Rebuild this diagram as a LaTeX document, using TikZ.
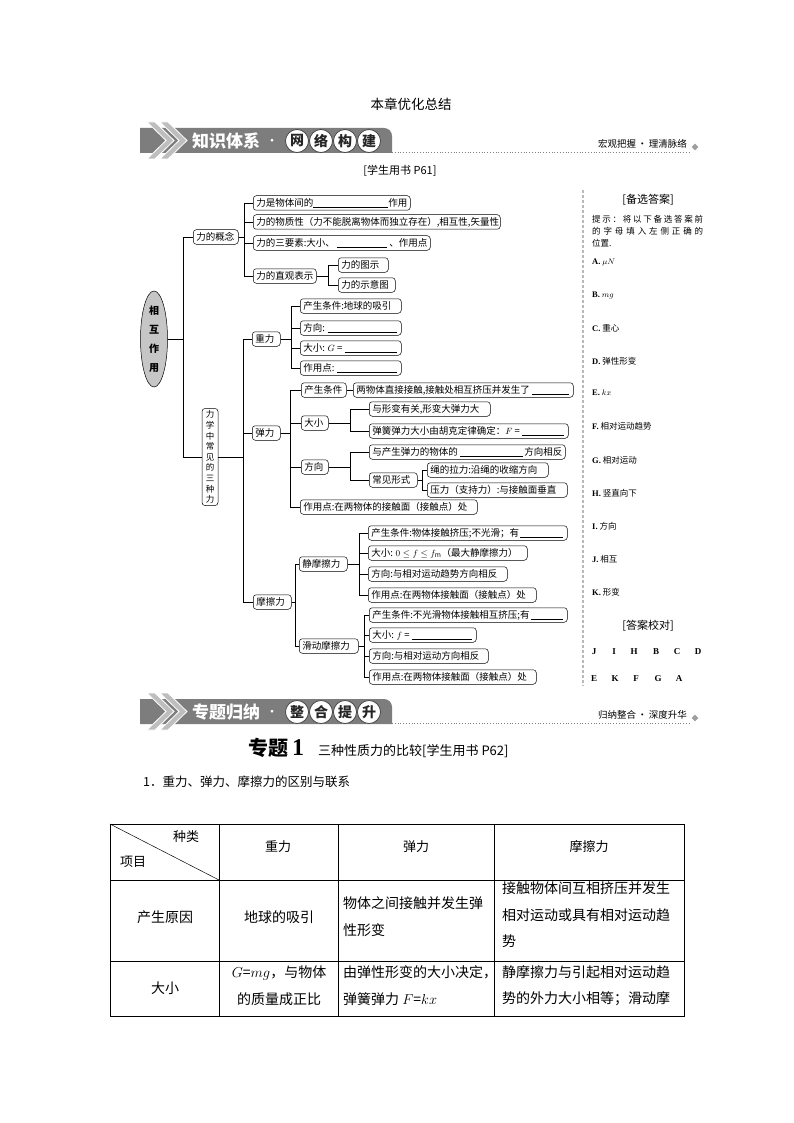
\documentclass[tikz,border=0pt]{standalone}
\usepackage{fontspec}
\setmainfont{Noto Sans CJK SC}
\newfontfamily\serifb{Liberation Serif}
\usetikzlibrary{shapes.geometric}
\newcommand{\fb}{\leaders\hrule height -1.05pt depth 1.5pt\hfill}
\newcommand{\fsz}[2]{\fontsize{#1}{#2}\selectfont}
\newcommand{\mbx}[5]{\node[bx] (#1) at (#2,#3) {\makebox[\dimexpr#4pt-6pt\relax][l]{#5}};}
\newcommand{\conn}[3]{\draw[ln] (#1.east) -| (#2,0 |- #3.west) -- (#3.west);}
\definecolor{bgray}{RGB}{125,125,125}
\definecolor{chevgray}{RGB}{190,190,190}
\newcommand{\drawbanner}[8]{%
  \fill[bgray] (140,#1+25) -- (140,#1) -- (384,#1) arc[start angle=90,end angle=0,radius=8pt] -- (392,#1+25) -- cycle;
  \foreach \cx in {147,160}{
    \filldraw[fill=chevgray,draw=white,line width=0.8pt] (\cx,#1-6) -- (\cx+8,#1-6) -- (\cx+27,#1+12.5) -- (\cx+8,#1+31) -- (\cx,#1+31) -- (\cx+19,#1+12.5) -- cycle;
  }
  \node[anchor=west,inner sep=0,text=white,font=\fsz{17}{17}\bfseries] (#8a) at (192,#1+13) {#2};
  \node[inner sep=0,text=white,font=\fsz{10}{10}\bfseries] (#8b) at (272,#1+13.5) {·};
  \foreach \ch/\cx [count=\k] in {#3/297,#4/321,#5/345,#6/369}{
    \node[circle,fill=white,draw=black!75,line width=0.7pt,minimum size=23pt,inner sep=0,font=\fsz{14}{14}\bfseries,text=black!85] (#8c\k) at (\cx,#1+13) {\ch};
  }
  \draw[gray,dotted,line width=0.8pt] (392,#1+24.5) -- (690,#1+24.5);
  \node[anchor=east,inner sep=0,font=\fsz{9.5}{10}] (#8d) at (687,#1+16) {#7};
  \node[diamond,fill=gray!75,minimum size=7pt,inner sep=0] (#8e) at (695,#1+19) {};
}
\begin{document}
\begin{tikzpicture}[x=1pt,y=-1pt,
  bx/.style={draw,rounded corners=3pt,line width=0.5pt,anchor=west,minimum height=14.5pt,inner xsep=3pt,inner ysep=0pt,font=\fsz{9.5}{10},fill=white},
  ln/.style={line width=0.5pt},
  plain/.style={inner sep=0},
  ans/.style={anchor=west,inner sep=0,font=\fsz{8.5}{10}},
  cell/.style={inner sep=0,font=\fsz{14}{26.5}}]
\useasboundingbox (0,0) rectangle (794,1123);
\fill[white] (0,0) rectangle (794,1123);

% title
\node[plain,font=\fsz{13.5}{14}] (title) at (411,104) {本章优化总结};
\drawbanner{128}{知识体系}{网}{络}{构}{建}{宏观把握\,·\,理清脉络}{bA}
\node[plain,font=\fsz{11}{12}] (p61) at (400,171) {[学生用书 P61]};

% tree
\node[ellipse,draw,fill=gray!45,line width=0.5pt,minimum width=27pt,minimum height=96pt,inner sep=0,font=\fsz{10}{19}\bfseries,align=center] (xh) at (154,339) {相\\互\\作\\用};
\node[draw,rounded corners=3pt,line width=0.5pt,minimum width=16pt,minimum height=97pt,inner sep=1pt,font=\fsz{8.5}{10.6},align=center,fill=white] (sz) at (210,457) {力\\学\\中\\常\\见\\的\\三\\种\\力};
\mbx{gn}{193}{237}{45}{力的概念}
\conn{xh}{183}{gn}
\draw[ln] (183,0 |- gn.west) -- (183,0 |- sz.west) -- (sz.west);

\mbx{c1}{253}{203}{157}{力是物体间的\fb 作用}
\mbx{c2}{253}{222}{247}{力的物质性（力不能脱离物体而独立存在）,相互性,矢量性}
\mbx{c3}{253}{243}{177}{力的三要素:大小、\hspace{2pt}\fb\hspace{2pt}、作用点}
\mbx{c4}{253}{276}{63}{力的直观表示}
\foreach \c in {c1,c2,c3,c4}{\conn{gn}{244}{\c}}
\mbx{c41}{338}{265}{50}{力的图示}
\mbx{c42}{338}{285}{57}{力的示意图}
\conn{c4}{328}{c41}
\conn{c4}{328}{c42}

% three forces
\mbx{zl}{252}{339}{28}{重力}
\mbx{tl}{252}{433}{28}{弹力}
\mbx{ml}{253}{602}{38}{摩擦力}
\foreach \c in {zl,tl,ml}{\conn{sz}{243}{\c}}

\mbx{z1}{300}{306}{101}{产生条件:地球的吸引}
\mbx{z2}{300}{328}{101}{方向: \fb\hspace{1pt}}
\mbx{z3}{300}{348}{101}{大小: $G$ = \fb\hspace{1pt}}
\mbx{z4}{300}{368}{101}{作用点: \fb\hspace{1pt}}
\foreach \c in {z1,z2,z3,z4}{\conn{zl}{291}{\c}}

\mbx{t1}{301}{390}{45}{产生条件}
\mbx{t1b}{353}{390}{220}{两物体直接接触,接触处相互挤压并发生了\hspace{2pt}\fb\hspace{1pt}}
\draw[ln] (t1.east) -- (t1b.west);
\mbx{t2}{301}{423}{27}{大小}
\mbx{t3}{301}{467}{27}{方向}
\mbx{t4}{300}{507}{177}{作用点:在两物体的接触面（接触点）处}
\foreach \c in {t1,t2,t3,t4}{\conn{tl}{290}{\c}}
\mbx{t21}{369}{409}{121}{与形变有关,形变大弹力大}
\mbx{t22}{369}{431}{199}{弹簧弹力大小由胡克定律确定：$F$ = \fb\hspace{1pt}}
\conn{t2}{350}{t21}
\conn{t2}{350}{t22}
\mbx{t31}{369}{452}{196}{与产生弹力的物体的 \fb\hspace{1pt}方向相反}
\mbx{t32}{369}{480}{48}{常见形式}
\conn{t3}{350}{t31}
\conn{t3}{350}{t32}
\mbx{t321}{427}{470}{121}{绳的拉力:沿绳的收缩方向}
\mbx{t322}{427}{490}{140}{压力（支持力）:与接触面垂直}
\conn{t32}{422}{t321}
\conn{t32}{422}{t322}

\mbx{jm}{299}{564}{48}{静摩擦力}
\mbx{hm}{299}{646}{59}{滑动摩擦力}
\conn{ml}{295}{jm}
\conn{ml}{295}{hm}
\mbx{j1}{368}{533}{199}{产生条件:物体接触挤压;不光滑；有\hspace{1pt}\fb\hspace{1pt}}
\mbx{j2}{368}{553}{159}{大小: $0\le f\le f_{\mathrm{m}}$（最大静摩擦力）}
\mbx{j3}{368}{574}{139}{方向:与相对运动趋势方向相反}
\mbx{j4}{368}{595}{168}{作用点:在两物体接触面（接触点）处}
\foreach \c in {j1,j2,j3,j4}{\conn{jm}{359}{\c}}
\mbx{h1}{369}{615}{198}{产生条件:不光滑物体接触相互挤压;有\hspace{1pt}\fb\hspace{1pt}}
\mbx{h2}{369}{635}{107}{大小: $f$ = \fb\hspace{1pt}}
\mbx{h3}{369}{656}{119}{方向:与相对运动方向相反}
\mbx{h4}{369}{677}{167}{作用点:在两物体接触面（接触点）处}
\foreach \c in {h1,h2,h3,h4}{\conn{hm}{364}{\c}}

% separator
\draw[gray!55,line width=1.2pt,dash pattern=on 3pt off 2pt] (583,190) -- (583,686);

% answer column
\node[plain,font=\fsz{11}{12}] (bx0) at (648,200) {[备选答案]};
\node[ans] (hint1) at (592,219) {\makebox[111pt][l]{提\hfill 示\hfill ：\hfill 将\hfill 以\hfill 下\hfill 备\hfill 选\hfill 答\hfill 案\hfill 前}};
\node[ans] (hint2) at (592,231) {\makebox[111pt][l]{的\hfill 字\hfill 母\hfill 填\hfill 入\hfill 左\hfill 侧\hfill 正\hfill 确\hfill 的}};
\node[ans] (hint3) at (592,243) {位置.};
\node[ans] (aA) at (592,262) {{\serifb\bfseries A.}\ $\mu N$};
\node[ans] (aB) at (592,295) {{\serifb\bfseries B.}\ $mg$};
\node[ans] (aC) at (592,328) {{\serifb\bfseries C.}\ 重心};
\node[ans] (aD) at (592,361) {{\serifb\bfseries D.}\ 弹性形变};
\node[ans] (aE) at (592,393) {{\serifb\bfseries E.}\ $kx$};
\node[ans] (aF) at (592,426) {{\serifb\bfseries F.}\ 相对运动趋势};
\node[ans] (aG) at (592,460) {{\serifb\bfseries G.}\ 相对运动};
\node[ans] (aH) at (592,493) {{\serifb\bfseries H.}\ 竖直向下};
\node[ans] (aI) at (592,526) {{\serifb\bfseries I.}\ 方向};
\node[ans] (aJ) at (592,559) {{\serifb\bfseries J.}\ 相互};
\node[ans] (aK) at (592,592) {{\serifb\bfseries K.}\ 形变};
\node[plain,font=\fsz{11}{12}] (jd) at (648,626) {[答案校对]};
\foreach \l/\x [count=\k] in {J/594,I/614,H/634,B/656,C/677,D/698}{
  \node[plain,font=\serifb\bfseries\fsz{9}{10}] (r1\k) at (\x,652) {\l};}
\foreach \l/\x [count=\k] in {E/594,K/615,F/636,G/658,A/679}{
  \node[plain,font=\serifb\bfseries\fsz{9}{10}] (r2\k) at (\x,679) {\l};}

% second banner
\drawbanner{699}{专题归纳}{整}{合}{提}{升}{归纳整合\,·\,深度升华}{bB}

\node[anchor=west,inner sep=0] (zt) at (248,748) {{\fsz{20}{20}\bfseries 专题}\hspace{4pt}{\serifb\fsz{24}{24}\bfseries 1}\hspace{14pt}{\fsz{13}{13}三种性质力的比较[学生用书 P62]}};
\node[anchor=west,inner sep=0,font=\fsz{12.5}{13}] (q1) at (143,782) {1．重力、弹力、摩擦力的区别与联系};

% table
\draw[line width=0.7pt] (110,824) rectangle (684,1016);
\draw[line width=0.7pt] (219,824) -- (219,1016) (338,824) -- (338,1016) (494,824) -- (494,1016);
\draw[line width=0.7pt] (110,880) -- (684,880) (110,961) -- (684,961);
\draw[line width=0.5pt] (110,824) -- (219,880);
\node[cell,font=\fsz{13}{14}] (hzl) at (186,837) {种类};
\node[cell,font=\fsz{13}{14}] (hxm) at (133,862) {项目};
\node[cell,font=\fsz{13}{14}] (h1) at (278,847) {重力};
\node[cell,font=\fsz{13}{14}] (h2) at (416,847) {弹力};
\node[cell,font=\fsz{13}{14}] (h3) at (589,847) {摩擦力};
\node[cell] (r1a) at (165,917) {产生原因};
\node[cell] (r1b) at (279,917) {地球的吸引};
\node[cell,anchor=west,align=left] (r1c) at (343,916.5) {物体之间接触并发生弹\\性形变};
\node[cell,anchor=west,align=left] (r1d) at (502,915) {接触物体间互相挤压并发生\\相对运动或具有相对运动趋\\势};
\node[cell] (r2a) at (165,988) {大小};
\node[cell,align=center] (r2b) at (279,985.5) {$G$=$mg$，与物体\\的质量成正比};
\node[cell,anchor=west,align=left] (r2c) at (343,985.5) {由弹性形变的大小决定，\\弹簧弹力 $F$=$kx$};
\node[cell,anchor=west,align=left] (r2d) at (502,985.5) {静摩擦力与引起相对运动趋\\势的外力大小相等；滑动摩};
\end{tikzpicture}
\end{document}
